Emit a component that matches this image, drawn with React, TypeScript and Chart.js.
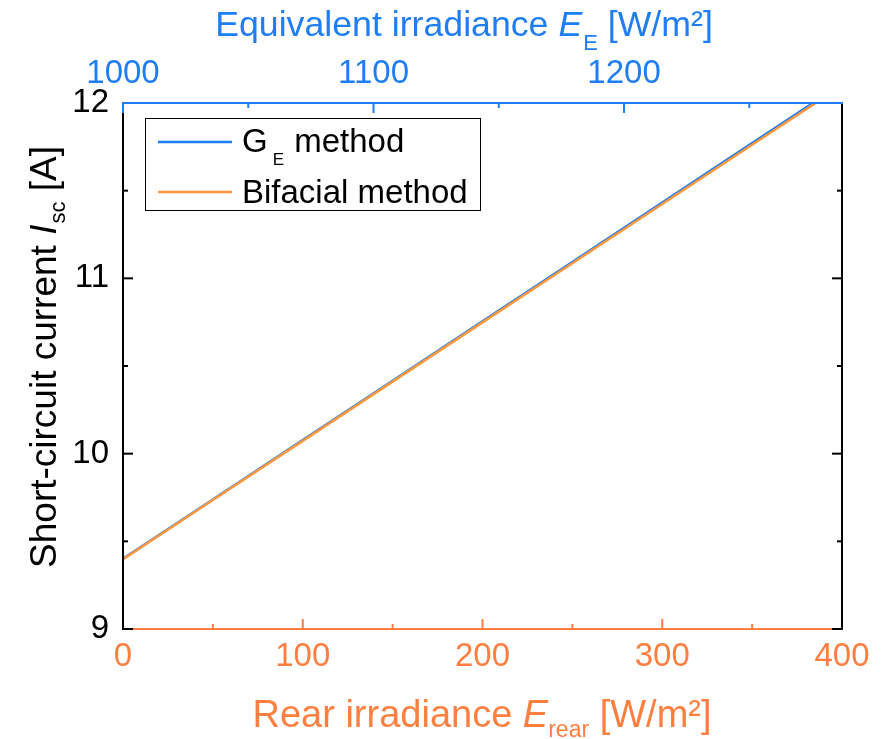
import React, { useEffect, useRef } from "react";
import { Chart, registerables } from "chart.js";
Chart.register(...registerables);

// ---- data ----
const rearIrradiance = [0, 50, 100, 150, 200, 250, 300, 350, 400];
const geMethodIsc = [9.4, 9.739, 10.077, 10.416, 10.755, 11.093, 11.432, 11.771, 12.109];
const bifacialMethodIsc = [9.398, 9.736, 10.073, 10.411, 10.749, 11.086, 11.424, 11.762, 12.099];
const seriesLabels = ["GE method", "Bifacial method"];

const bottomTicks = [0, 100, 200, 300, 400];
const bottomMinorTicks = [50, 150, 250, 350];
const topTicks = [1000, 1100, 1200];
const topMinorTicks = [1050, 1150, 1250];
const topRange = [1000, 1287];
const leftTicks = [9, 10, 11, 12];
const leftMinorTicks = [9.5, 10.5, 11.5];

const BLUE = "#1f7df5";
const ORANGE_AX = "#ff7f40";
const ORANGE_LINE = "#ff983c";
const FONT = '"Liberation Sans", Arial, sans-serif';

type Run = { t: string; italic?: boolean; sub?: boolean; dx?: number };

function drawRich(
  ctx: CanvasRenderingContext2D,
  runs: Run[],
  x: number,
  y: number,
  size: number,
  subSize: number,
  subShift: number,
  color: string,
  align: "center" | "left",
  rotate = false
) {
  ctx.save();
  ctx.translate(x, y);
  if (rotate) ctx.rotate(-Math.PI / 2);
  ctx.fillStyle = color;
  ctx.textBaseline = "alphabetic";
  ctx.textAlign = "left";
  const fontOf = (r: Run) => `${r.italic ? "italic " : ""}${r.sub ? subSize : size}px ${FONT}`;
  let total = 0;
  const widths = runs.map((r) => {
    ctx.font = fontOf(r);
    const w = ctx.measureText(r.t).width + (r.dx || 0);
    total += w;
    return w;
  });
  let cx = align === "center" ? -total / 2 : 0;
  runs.forEach((r, i) => {
    ctx.font = fontOf(r);
    ctx.fillText(r.t, cx + (r.dx || 0), r.sub ? subShift : 0);
    cx += widths[i];
  });
  ctx.restore();
}

const axesPlugin = {
  id: "customAxes",
  afterDraw(chart: any) {
    const ctx: CanvasRenderingContext2D = chart.ctx;
    const { left, right, top, bottom } = chart.chartArea;
    const sx = chart.scales.x;
    const sx2 = chart.scales.x2;
    const sy = chart.scales.y;
    const MAJ = 10;
    const MIN = 5;
    ctx.save();
    ctx.lineWidth = 2;
    ctx.lineCap = "butt";
    const line = (x1: number, y1: number, x2: number, y2: number, c: string) => {
      ctx.strokeStyle = c;
      ctx.beginPath();
      ctx.moveTo(x1, y1);
      ctx.lineTo(x2, y2);
      ctx.stroke();
    };
    // bottom axis
    line(left, bottom, right, bottom, ORANGE_AX);
    bottomTicks.forEach((v) => {
      const p = sx.getPixelForValue(v);
      line(p, bottom, p, bottom - MAJ, ORANGE_AX);
    });
    bottomMinorTicks.forEach((v) => {
      const p = sx.getPixelForValue(v);
      line(p, bottom, p, bottom - MIN, ORANGE_AX);
    });
    // left / right axes
    line(left, top, left, bottom + 1, "#000");
    line(right, top, right, bottom + 1, "#000");
    leftTicks.forEach((v) => {
      const p = sy.getPixelForValue(v);
      line(left, p, left + MAJ, p, "#000");
      line(right, p, right - MAJ, p, "#000");
    });
    leftMinorTicks.forEach((v) => {
      const p = sy.getPixelForValue(v);
      line(left, p, left + MIN, p, "#000");
      line(right, p, right - MIN, p, "#000");
    });
    // top axis
    line(left - 1, top, right + 1, top, BLUE);
    topTicks.forEach((v) => {
      const p = sx2.getPixelForValue(v);
      line(p, top, p, top + MAJ, BLUE);
    });
    topMinorTicks.forEach((v) => {
      const p = sx2.getPixelForValue(v);
      line(p, top, p, top + MIN, BLUE);
    });
    ctx.restore();

    // axis titles
    drawRich(
      ctx,
      [{ t: "Equivalent irradiance " }, { t: "E", italic: true }, { t: "E", sub: true, dx: 1 }, { t: " [W/m²]" }],
      464, 36, 35.7, 22, 14, BLUE, "center"
    );
    drawRich(
      ctx,
      [{ t: "Rear irradiance " }, { t: "E", italic: true }, { t: "rear", sub: true }, { t: " [W/m²]" }],
      482, 727, 38, 23, 10, ORANGE_AX, "center"
    );
    drawRich(
      ctx,
      [{ t: "Short-circuit current " }, { t: "I", italic: true }, { t: "sc", sub: true, dx: 1 }, { t: " [A]" }],
      56, 357, 37, 22, 9, "#000", "center", true
    );

    // legend
    const lx = 145, ly = 118, lw = 335, lh = 92;
    ctx.save();
    ctx.fillStyle = "#fff";
    ctx.fillRect(lx, ly, lw, lh);
    ctx.strokeStyle = "#000";
    ctx.lineWidth = 1;
    ctx.strokeRect(lx + 0.5, ly + 0.5, lw, lh);
    ctx.lineWidth = 2.5;
    line(158, 142, 232, 142, BLUE);
    line(158, 192, 232, 192, ORANGE_LINE);
    ctx.restore();
    drawRich(ctx, [{ t: "G" }, { t: "E", sub: true, dx: 5 }, { t: " method", dx: 1 }], 242, 152, 33, 17, 13, "#000", "left");
    drawRich(ctx, [{ t: seriesLabels[1] }], 242, 203, 33, 17, 13, "#000", "left");
  },
};

export default function App() {
  const ref = useRef<HTMLCanvasElement | null>(null);
  useEffect(() => {
    if (!ref.current) return;
    const fmt = (v: any) => String(v);
    const chart = new Chart(ref.current, {
      type: "line",
      data: {
        labels: rearIrradiance,
        datasets: [
          {
            label: seriesLabels[0],
            data: rearIrradiance.map((x, i) => ({ x, y: geMethodIsc[i] })),
            borderColor: BLUE,
            borderWidth: 2.5,
            pointRadius: 0,
            tension: 0,
            order: 2,
            xAxisID: "x",
            yAxisID: "y",
          },
          {
            label: seriesLabels[1],
            data: rearIrradiance.map((x, i) => ({ x, y: bifacialMethodIsc[i] })),
            borderColor: ORANGE_LINE,
            borderWidth: 2.5,
            pointRadius: 0,
            tension: 0,
            order: 1,
            xAxisID: "x",
            yAxisID: "y",
          },
        ],
      },
      options: {
        animation: false,
        responsive: true,
        maintainAspectRatio: false,
        layout: { padding: 0 },
        plugins: { legend: { display: false }, tooltip: { enabled: false } },
        scales: {
          x: {
            type: "linear",
            position: "bottom",
            min: 0,
            max: 400,
            grid: { display: false, drawTicks: false },
            border: { display: false },
            afterBuildTicks: (s: any) => {
              s.ticks = bottomTicks.map((v) => ({ value: v }));
            },
            afterFit: (s: any) => {
              s.height = 110;
            },
            ticks: { color: ORANGE_AX, font: { family: FONT, size: 33 }, padding: 8, maxRotation: 0, callback: fmt },
          },
          x2: {
            type: "linear",
            position: "top",
            min: topRange[0],
            max: topRange[1],
            grid: { display: false, drawTicks: false },
            border: { display: false },
            afterBuildTicks: (s: any) => {
              s.ticks = topTicks.map((v) => ({ value: v }));
            },
            afterFit: (s: any) => {
              s.height = 103;
            },
            ticks: { color: BLUE, font: { family: FONT, size: 33 }, padding: 9, maxRotation: 0, callback: fmt },
          },
          y: {
            type: "linear",
            position: "left",
            min: 9,
            max: 12,
            grid: { display: false, drawTicks: false },
            border: { display: false },
            afterBuildTicks: (s: any) => {
              s.ticks = leftTicks.map((v) => ({ value: v }));
            },
            afterFit: (s: any) => {
              s.width = 123;
            },
            ticks: { color: "#000", font: { family: FONT, size: 33 }, padding: 14, callback: fmt },
          },
          yr: {
            type: "linear",
            position: "right",
            min: 9,
            max: 12,
            grid: { display: false, drawTicks: false },
            border: { display: false },
            ticks: { display: false },
            afterFit: (s: any) => {
              s.width = 42;
            },
          },
        },
      },
      plugins: [axesPlugin],
    } as any);
    return () => chart.destroy();
  }, []);
  return (
    <div style={{ position: "absolute", left: 0, top: 0, width: 884, height: 739, background: "#fff" }}>
      <canvas ref={ref} />
    </div>
  );
}
